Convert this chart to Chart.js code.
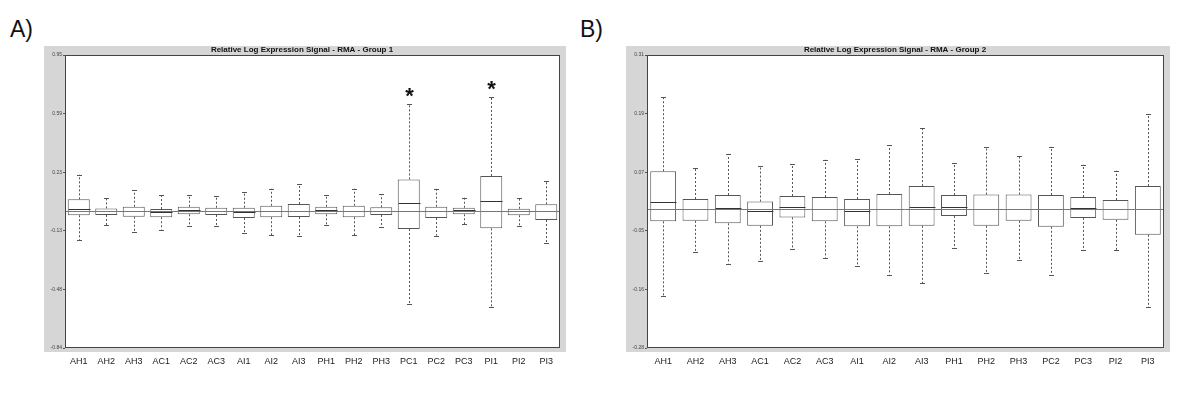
<!DOCTYPE html>
<html>
<head>
<meta charset="utf-8">
<script src="https://cdn.jsdelivr.net/npm/chart.js@4.4.1/dist/chart.umd.min.js"></script>
<style>
  body { margin: 0; background: #fff; width: 1200px; height: 413px; overflow: hidden; position: relative; font-family: Arial, "Liberation Sans", sans-serif; }
  canvas { position: absolute; top: 0; }
  #cA { left: 0; }
  #cB { left: 600px; }
  .tag { position: absolute; top: 16px; font-size: 23px; color: #111; }
</style>
</head>
<body>
<div class="tag" style="left:10px">A)</div>
<div class="tag" style="left:580px">B)</div>
<canvas id="cA" width="600" height="413"></canvas>
<canvas id="cB" width="600" height="413"></canvas>
<script>
// Panel A - Group 1
const catsA = ['AH1','AH2','AH3','AC1','AC2','AC3','AI1','AI2','AI3','PH1','PH2','PH3','PC1','PC2','PC3','PI1','PI2','PI3'];
const loA  = [-0.177,-0.087,-0.130,-0.114,-0.092,-0.093,-0.134,-0.148,-0.151,-0.085,-0.148,-0.098,-0.567,-0.151,-0.079,-0.588,-0.093,-0.193];
const q1A  = [-0.026,-0.024,-0.035,-0.038,-0.020,-0.024,-0.043,-0.038,-0.037,-0.020,-0.038,-0.024,-0.110,-0.043,-0.020,-0.106,-0.026,-0.055];
const medA = [0.010,0.000,0.000,-0.004,0.006,0.000,-0.004,0.002,0.002,0.004,0.000,0.000,0.047,0.000,0.004,0.061,0.000,0.000];
const q3A  = [0.071,0.016,0.026,0.012,0.026,0.020,0.020,0.032,0.043,0.026,0.032,0.023,0.193,0.026,0.020,0.214,0.014,0.041];
const hiA  = [0.221,0.079,0.126,0.096,0.096,0.092,0.114,0.136,0.163,0.096,0.136,0.102,0.651,0.136,0.081,0.697,0.081,0.181];
const ticksA = ['-0.84','-0.48','-0.13','0.23','0.59','0.95'];
const starsA = ['PC1','PI1'];

// Panel B - Group 2
const catsB = ['AH1','AH2','AH3','AC1','AC2','AC3','AI1','AI2','AI3','PH1','PH2','PH3','PC2','PC3','PI2','PI3'];
const loB  = [-0.175,-0.087,-0.110,-0.105,-0.080,-0.099,-0.115,-0.132,-0.150,-0.079,-0.129,-0.103,-0.132,-0.083,-0.083,-0.198];
const q1B  = [-0.025,-0.024,-0.029,-0.034,-0.017,-0.025,-0.035,-0.035,-0.034,-0.014,-0.034,-0.024,-0.036,-0.018,-0.022,-0.052];
const medB = [0.015,-0.001,0.002,-0.004,0.004,0.000,-0.005,0.000,0.003,0.003,0.000,0.000,0.000,0.001,0.000,0.000];
const q3B  = [0.076,0.020,0.028,0.015,0.026,0.024,0.020,0.030,0.046,0.028,0.029,0.029,0.028,0.024,0.018,0.046];
const hiB  = [0.226,0.082,0.110,0.087,0.090,0.099,0.100,0.128,0.163,0.092,0.124,0.107,0.125,0.089,0.077,0.191];
const ticksB = ['-0.28','-0.16','-0.05','0.07','0.19','0.31'];

// gray frame + plot border + whiskers, medians, zero line
const boxPlugin = {
  id: 'boxPlugin',
  beforeDraw(chart) {
    const a = chart.chartArea, ctx = chart.ctx;
    ctx.save();
    ctx.fillStyle = '#d6d6d6';
    ctx.fillRect(a.left - 21, a.top - 9, a.right - a.left + 27, a.bottom - a.top + 13);
    ctx.fillStyle = '#fff';
    ctx.fillRect(a.left, a.top, a.right - a.left, a.bottom - a.top);
    ctx.restore();
  },
  afterDatasetsDraw(chart) {
    const a = chart.chartArea, ctx = chart.ctx;
    const xs = chart.scales.x, ys = chart.scales.y;
    const d = chart.config.options.plugins.boxPlugin;
    const meta = chart.getDatasetMeta(0);
    ctx.save();
    d.lo.forEach((lo, i) => {
      const x = Math.round(xs.getPixelForValue(i)) + 0.5;
      const hw = meta.data[i].width / 2;
      const yHi = ys.getPixelForValue(d.hi[i]), yQ3 = ys.getPixelForValue(d.q3[i]);
      const yLo = ys.getPixelForValue(lo), yQ1 = ys.getPixelForValue(d.q1[i]);
      ctx.strokeStyle = '#555';
      ctx.lineWidth = 1;
      ctx.setLineDash([2, 2]);
      ctx.beginPath();
      ctx.moveTo(x, yQ3); ctx.lineTo(x, yHi);
      ctx.moveTo(x, yQ1); ctx.lineTo(x, yLo);
      ctx.stroke();
      ctx.setLineDash([]);
      ctx.beginPath();
      ctx.moveTo(x - 2.5, Math.round(yHi) + 0.5); ctx.lineTo(x + 2.5, Math.round(yHi) + 0.5);
      ctx.moveTo(x - 2.5, Math.round(yLo) + 0.5); ctx.lineTo(x + 2.5, Math.round(yLo) + 0.5);
      ctx.stroke();
      const ym = Math.round(ys.getPixelForValue(d.med[i])) + 0.5;
      ctx.strokeStyle = '#333';
      ctx.beginPath();
      ctx.moveTo(x - hw, ym); ctx.lineTo(x + hw, ym);
      ctx.stroke();
      if (d.stars.includes(chart.data.labels[i])) {
        ctx.fillStyle = '#111';
        ctx.font = 'bold 22px Arial';
        ctx.textAlign = 'center';
        ctx.textBaseline = 'alphabetic';
        ctx.fillText('*', x, yHi - 1);
      }
    });
    const y0 = Math.round(ys.getPixelForValue(0)) + 0.5;
    ctx.strokeStyle = '#777';
    ctx.beginPath();
    ctx.moveTo(a.left, y0); ctx.lineTo(a.right, y0);
    ctx.stroke();
    ctx.strokeStyle = '#444';
    ctx.strokeRect(a.left + 0.5, a.top + 0.5, a.right - a.left - 1, a.bottom - a.top - 1);
    ctx.restore();
  }
};

function makeChart(id, cats, lo, q1, med, q3, hi, tickLabels, yMin, yMax, stars, pad, title) {
  new Chart(document.getElementById(id), {
    type: 'bar',
    data: {
      labels: cats,
      datasets: [{
        data: q1.map((v, i) => [v, q3[i]]),
        backgroundColor: '#fff',
        borderColor: '#555',
        borderWidth: 1,
        borderSkipped: false,
        barPercentage: 0.8,
        categoryPercentage: 1
      }]
    },
    options: {
      responsive: false,
      animation: false,
      devicePixelRatio: 1,
      layout: { padding: pad },
      plugins: {
        legend: { display: false },
        tooltip: { enabled: false },
        title: {
          display: true,
          text: title,
          color: '#111',
          font: { family: 'Arial', size: 8, weight: 'bold', lineHeight: 1.25 },
          padding: 0
        },
        boxPlugin: { lo: lo, q1: q1, med: med, q3: q3, hi: hi, stars: stars }
      },
      scales: {
        x: {
          grid: { display: false, drawTicks: false },
          border: { display: false },
          afterFit(s) { s.height = 24; },
          ticks: { color: '#222', font: { family: 'Arial', size: 9 }, padding: 8, maxRotation: 0, autoSkip: false }
        },
        y: {
          min: yMin,
          max: yMax,
          afterFit(s) { s.width = 21; },
          afterBuildTicks(s) {
            s.ticks = tickLabels.map((t, i) => ({ value: yMin + (yMax - yMin) * i / (tickLabels.length - 1) }));
          },
          grid: { drawOnChartArea: false, tickLength: 2, color: '#555' },
          border: { display: false },
          ticks: {
            autoSkip: false,
            color: '#444',
            padding: 1,
            font: { family: 'Arial', size: 5 },
            callback: (v, i) => tickLabels[i]
          }
        }
      }
    },
    plugins: [boxPlugin]
  });
}

makeChart('cA', catsA, loA, q1A, medA, q3A, hiA, ticksA, -0.836, 0.952, starsA,
  { left: 44, right: 40, top: 45, bottom: 41 }, 'Relative Log Expression Signal - RMA - Group 1');
makeChart('cB', catsB, loB, q1B, medB, q3B, hiB, ticksB, -0.280, 0.310, [],
  { left: 26, right: 36, top: 45, bottom: 41 }, 'Relative Log Expression Signal - RMA - Group 2');
</script>
</body>
</html>
